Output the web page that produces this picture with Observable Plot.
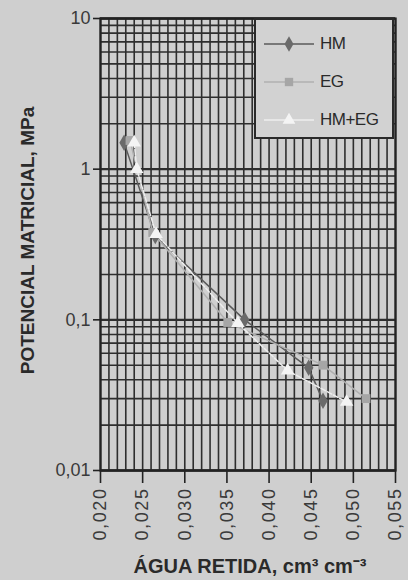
<!DOCTYPE html>
<html>
<head>
<meta charset="utf-8">
<script src="https://cdn.jsdelivr.net/npm/d3@7"></script>
<script src="https://cdn.jsdelivr.net/npm/@observablehq/plot@0.6"></script>
<style>
  html, body { margin: 0; padding: 0; background: #cfcfcf; }
  #wrap { position: relative; width: 408px; height: 580px; font-family: "Liberation Sans", Arial, sans-serif; }
  #legend { position: absolute; left: 254px; top: 18px; width: 136px; height: 117px; border: 2px solid #2a2a2a; background: #d2d2d2; }
  #legend .row { position: absolute; left: 0; height: 20px; }
  #legend span { position: absolute; left: 64px; top: 0; font-size: 17px; color: #2a2a2a; letter-spacing: -0.5px; }
  g[aria-label="x-axis tick label"] text { letter-spacing: 1.6px; }
</style>
</head>
<body>
<div id="wrap"></div>
<script>
// Series names
const seriesNames = ["HM", "EG", "HM+EG"];
// Water retained (cm3 cm-3) and matric potential (MPa)
const hmX  = [0.0228, 0.0265, 0.0371, 0.0447, 0.0464];
const hmY  = [1.50,   0.36,   0.100,  0.048,  0.029];
const egX  = [0.0235, 0.0262, 0.0351, 0.0464, 0.0515];
const egY  = [1.55,   0.38,   0.096,  0.050,  0.030];
const hegX = [0.0240, 0.0243, 0.0266, 0.0363, 0.0422, 0.0492];
const hegY = [1.50,   1.00,   0.37,   0.095,  0.046,  0.0285];
// Tick labels
const xTicks = [0.020, 0.025, 0.030, 0.035, 0.040, 0.045, 0.050, 0.055];
const yTicks = [0.01, 0.1, 1, 10];
const yTickLabels = ["0,01", "0,1", "1", "10"];

const colors = { "HM": "#6a6a6a", "EG": "#a6a6a6", "HM+EG": "#f4f4f4" };
const lineColors = { "HM": "#5a5a5a", "EG": "#b0b0b0", "HM+EG": "#eeeeee" };
const dashes = { "HM": null, "EG": null, "HM+EG": "5,2" };
const symbols = { "HM": "diamond", "EG": "square", "HM+EG": "triangle" };

const data = [
  ...hmX.map((x, i) => ({ s: "HM", x, y: hmY[i] })),
  ...egX.map((x, i) => ({ s: "EG", x, y: egY[i] })),
  ...hegX.map((x, i) => ({ s: "HM+EG", x, y: hegY[i] }))
];

const xGrid = d3.range(20, 56).map(v => v / 1000);
const yGrid = d3.scaleLog().domain([0.01, 10]).ticks();

const lineMarks = seriesNames.map(name =>
  Plot.line(data.filter(d => d.s === name), {
    x: "x", y: "y", stroke: lineColors[name], strokeWidth: 1.5,
    ...(dashes[name] ? { strokeDasharray: dashes[name] } : {})
  })
);

const chart = Plot.plot({
  width: 408,
  height: 580,
  marginTop: 18,
  marginBottom: 110,
  marginLeft: 100,
  marginRight: 13,
  style: { background: "transparent", fontFamily: "Liberation Sans, Arial, sans-serif", color: "#333" },
  x: { domain: [0.020, 0.055] },
  y: { type: "log", domain: [0.01, 10] },
  marks: [
    Plot.gridX(xGrid, { stroke: "#2e2e2e", strokeOpacity: 1, strokeWidth: 1.6 }),
    Plot.gridY(yGrid, { stroke: "#2e2e2e", strokeOpacity: 1, strokeWidth: 1.6 }),
    Plot.gridY(yTicks, { stroke: "#2e2e2e", strokeOpacity: 1, strokeWidth: 2.4 }),
    Plot.axisX(xTicks, {
      tickFormat: d => d.toFixed(3).replace(".", ","),
      tickRotate: -90, tickSize: 13, tickPadding: 4, fontSize: 18, stroke: "#222", strokeWidth: 1.6, label: null, fill: "#3a3a3a"
    }),
    Plot.axisY(yTicks, {
      tickFormat: d => yTickLabels[yTicks.indexOf(d)],
      tickSize: 7, tickPadding: 3, fontSize: 18, stroke: "#222", strokeWidth: 1.6, label: null, fill: "#3a3a3a"
    }),
    Plot.frame({ stroke: "#222", strokeWidth: 2.2 }),
    ...lineMarks,
    Plot.dot(data, { x: "x", y: "y", symbol: d => symbols[d.s], fill: d => colors[d.s], r: 5, stroke: "none" }),
    Plot.text(["ÁGUA RETIDA, cm³ cm⁻³"], { frameAnchor: "bottom", textAnchor: "middle", dx: 2, dy: 102, fontSize: 20, fontWeight: "bold", fill: "#2a2a2a" }),
    Plot.text(["POTENCIAL MATRICIAL, MPa"], { frameAnchor: "left", textAnchor: "middle", dx: -73, dy: -4, rotate: -90, fontSize: 19, fontWeight: "bold", fill: "#2a2a2a" })
  ]
});
document.getElementById("wrap").appendChild(chart);

// Legend (HTML overlay)
const legend = document.createElement("div");
legend.id = "legend";
const rowTops = [14, 52, 90];
seriesNames.forEach((name, i) => {
  const row = document.createElement("div");
  row.className = "row";
  row.style.top = rowTops[i] + "px";
  row.style.width = "136px";
  const sym = d3.symbol().type(name === "HM" ? d3.symbolDiamond : name === "EG" ? d3.symbolSquare : d3.symbolTriangle).size(70)();
  row.innerHTML = `<svg width="62" height="20" style="position:absolute;left:0;top:0">
      <line x1="8" x2="58" y1="10" y2="10" stroke="${lineColors[name]}" stroke-width="1.5"/>
      <path d="${sym}" transform="translate(33,10)" fill="${colors[name]}"/>
    </svg><span>${name}</span>`;
  legend.appendChild(row);
});
document.getElementById("wrap").appendChild(legend);
</script>
</body>
</html>
